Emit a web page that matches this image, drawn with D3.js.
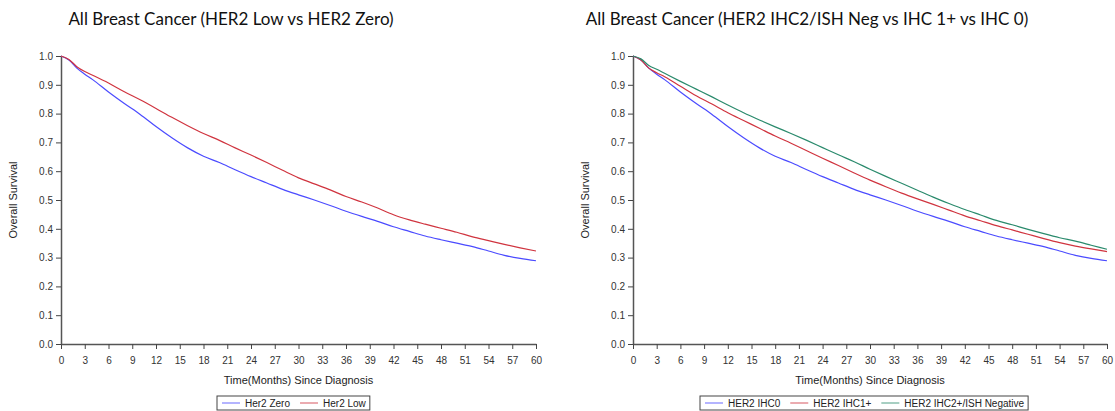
<!DOCTYPE html>
<html>
<head>
<meta charset="utf-8">
<script src="https://cdn.jsdelivr.net/npm/d3@7"></script>
<style>
  body { margin: 0; background: #fff; }
  svg { display: block; }
  .tick text { font-family: "Liberation Sans", Arial, sans-serif; font-size: 10px; fill: #333; }
</style>
</head>
<body>
<svg id="chart" width="1115" height="411"></svg>
<script>
// months since diagnosis
const months = [0, 1, 2, 3, 4, 6, 8, 10, 12, 14, 16, 18, 20, 22, 24, 26, 28, 30, 32, 34, 36, 38, 40, 42, 44, 46, 48, 50, 52, 54, 56, 58, 60];

// left panel
const her2Zero = [1.0, .986, .958, .937, .918, .875, .835, .797, .755, .716, .681, .652, .630, .605, .581, .559, .537, .518, .500, .481, .461, .443, .426, .407, .391, .375, .362, .350, .338, .323, .308, .297, .289];
const her2Low = [1.0, .988, .963, .946, .933, .906, .876, .848, .818, .787, .758, .731, .707, .681, .656, .630, .603, .577, .556, .535, .512, .493, .472, .449, .431, .416, .402, .388, .372, .359, .346, .334, .323];

// right panel
const ihc0 = [1.0, .986, .958, .937, .918, .875, .835, .797, .755, .716, .681, .652, .630, .605, .581, .559, .537, .518, .500, .481, .461, .443, .426, .407, .391, .375, .362, .350, .338, .323, .308, .297, .289];
const ihc1 = [1.0, .986, .958, .942, .928, .895, .862, .833, .803, .776, .749, .722, .697, .671, .645, .620, .594, .569, .546, .524, .504, .485, .465, .445, .428, .411, .396, .381, .366, .352, .340, .330, .321];
const ihc2Neg = [1.0, .990, .967, .954, .940, .912, .885, .858, .830, .803, .778, .754, .731, .707, .682, .657, .633, .607, .582, .558, .534, .510, .488, .467, .448, .429, .414, .398, .383, .369, .357, .343, .329];

const xTickValues = [0, 3, 6, 9, 12, 15, 18, 21, 24, 27, 30, 33, 36, 39, 42, 45, 48, 51, 54, 57, 60];
const yTickValues = [0, 0.1, 0.2, 0.3, 0.4, 0.5, 0.6, 0.7, 0.8, 0.9, 1.0];

const blue = '#4b4bff', red = '#d0343f', green = '#2a8a6c';

const svg = d3.select('#chart');
const sans = '"Liberation Sans", Arial, sans-serif';

const drawPanel = (p) => {
	const x = d3.scaleLinear().domain([0, 60]).range([p.x0, p.x1]);
	const y = d3.scaleLinear().domain([0, 1]).range([344, 56]);

	svg.append('text')
		.attr('x', p.titleX)
		.attr('y', 25)
		.attr('text-anchor', 'middle')
		.attr('font-family', 'Lato, "Open Sans", sans-serif')
		.attr('font-size', 17)
		.attr('fill', '#111')
		.text(p.title);

	const gx = svg.append('g')
		.attr('transform', 'translate(0,344)')
		.call(d3.axisBottom(x).tickValues(xTickValues).tickSize(5).tickPadding(8).tickSizeOuter(0));
	const gy = svg.append('g')
		.attr('transform', `translate(${p.x0},0)`)
		.call(d3.axisLeft(y).tickValues(yTickValues).tickFormat(d3.format('.1f')).tickSize(5).tickPadding(3).tickSizeOuter(0));
	[gx, gy].forEach(g => {
		g.select('.domain').attr('stroke', '#555').attr('stroke-width', 1.5);
		g.selectAll('.tick line').attr('stroke', '#444');
	});

	svg.append('text')
		.attr('x', (p.x0 + p.x1) / 2)
		.attr('y', 384)
		.attr('text-anchor', 'middle')
		.attr('font-family', sans)
		.attr('font-size', 11)
		.attr('fill', '#222')
		.text('Time(Months) Since Diagnosis');

	svg.append('text')
		.attr('transform', `translate(${p.x0 - 44},200) rotate(-90)`)
		.attr('text-anchor', 'middle')
		.attr('font-family', sans)
		.attr('font-size', 11)
		.attr('fill', '#222')
		.text('Overall Survival');

	const line = d3.line()
		.x((d, i) => x(months[i]))
		.y(d => y(d))
		.curve(d3.curveMonotoneX);

	p.series.forEach(s => {
		svg.append('path')
			.attr('d', line(s.values))
			.attr('fill', 'none')
			.attr('stroke', s.color)
			.attr('stroke-width', 1.2);
	});

	// legend
	const lg = svg.append('g');
	let cx = p.legendX + 5;
	p.series.forEach(s => {
		lg.append('line')
			.attr('x1', cx).attr('x2', cx + 18)
			.attr('y1', 403).attr('y2', 403)
			.attr('stroke', s.color)
			.attr('stroke-opacity', 0.55)
			.attr('stroke-width', 1.5);
		const t = lg.append('text')
			.attr('x', cx + 23)
			.attr('y', 406.5)
			.attr('font-family', sans)
			.attr('font-size', 10)
			.attr('fill', '#222')
			.text(s.name);
		cx += 23 + t.node().getComputedTextLength() + 10;
	});
	lg.insert('rect', ':first-child')
		.attr('x', p.legendX)
		.attr('y', 396)
		.attr('width', cx - 6 - p.legendX)
		.attr('height', 14)
		.attr('fill', '#fff')
		.attr('stroke', '#444')
		.attr('stroke-width', 1);
};

drawPanel({
	x0: 61, x1: 536, titleX: 231, legendX: 217,
	title: 'All Breast Cancer (HER2 Low vs HER2 Zero)',
	series: [
		{ name: 'Her2 Zero', values: her2Zero, color: blue },
		{ name: 'Her2 Low', values: her2Low, color: red }
	]
});

drawPanel({
	x0: 633, x1: 1107, titleX: 807, legendX: 700,
	title: 'All Breast Cancer (HER2 IHC2/ISH Neg vs IHC 1+ vs IHC 0)',
	series: [
		{ name: 'HER2 IHC0', values: ihc0, color: blue },
		{ name: 'HER2 IHC1+', values: ihc1, color: red },
		{ name: 'HER2 IHC2+/ISH Negative', values: ihc2Neg, color: green }
	]
});
</script>
</body>
</html>
